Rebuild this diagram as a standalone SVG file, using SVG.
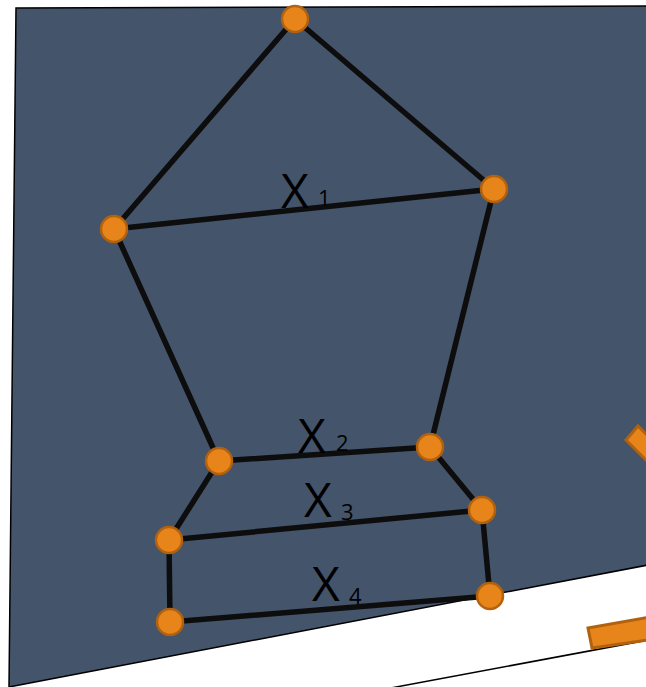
<svg xmlns="http://www.w3.org/2000/svg" width="646" height="687" viewBox="0 0 646 687">
<style>
.bg{fill:#44546a;stroke:#000;stroke-width:1.5}
.edge{stroke:#0d0d0d;stroke-width:5.5;stroke-linecap:round;fill:none}
.node{fill:#e8851a;stroke:#b2620f;stroke-width:2.5}
.shape{fill:#e8851a;stroke:#b2620f;stroke-width:3}
.lx{font-family:"Open Sans","DejaVu Sans",sans-serif;font-size:48px;fill:#000}
.ls{font-family:"Open Sans","DejaVu Sans",sans-serif;font-size:22px;fill:#000}
</style>
<rect width="646" height="687" fill="#fff"/>
<polygon class="bg" points="16,8 648,6 648,565 9,687"/>
<line x1="380" y1="690" x2="648" y2="640" stroke="#000" stroke-width="1.5"/>
<polygon class="shape" points="626,440 638,426 660,448 648,462"/>
<polygon class="shape" points="588,628 650,617 654,639 592,648"/>
<g id="connectors">
<line class="edge" x1="295" y1="19" x2="114" y2="229"/>
<line class="edge" x1="295" y1="19" x2="494" y2="189"/>
<line class="edge" x1="114" y1="229" x2="494" y2="189"/>
<line class="edge" x1="114" y1="229" x2="219" y2="461"/>
<line class="edge" x1="494" y1="189" x2="430" y2="447"/>
<line class="edge" x1="219" y1="461" x2="430" y2="447"/>
<line class="edge" x1="219" y1="461" x2="169" y2="540"/>
<line class="edge" x1="430" y1="447" x2="482" y2="510"/>
<line class="edge" x1="169" y1="540" x2="482" y2="510"/>
<line class="edge" x1="169" y1="540" x2="170" y2="622"/>
<line class="edge" x1="482" y1="510" x2="490" y2="596"/>
<line class="edge" x1="170" y1="622" x2="490" y2="596"/>
</g>
<g id="n1"><circle class="node" cx="295" cy="19" r="13"/></g>
<g id="n2"><circle class="node" cx="494" cy="189" r="13"/></g>
<g id="n3"><circle class="node" cx="114" cy="229" r="13"/></g>
<g id="n4"><circle class="node" cx="219" cy="461" r="13"/></g>
<g id="n5"><circle class="node" cx="430" cy="447" r="13"/></g>
<g id="n6"><circle class="node" cx="169" cy="540" r="13"/></g>
<g id="n7"><circle class="node" cx="482" cy="510" r="13"/></g>
<g id="n8"><circle class="node" cx="170" cy="622" r="13"/></g>
<g id="n9"><circle class="node" cx="490" cy="596" r="13"/></g>
<g id="labels">
<text class="lx" x="281" y="208">X</text><text class="ls" x="318" y="206">1</text>
<text class="lx" x="298" y="453">X</text><text class="ls" x="336" y="451">2</text>
<text class="lx" x="304" y="517">X</text><text class="ls" x="341" y="520">3</text>
<text class="lx" x="312" y="601">X</text><text class="ls" x="349" y="604">4</text>
</g>
</svg>
